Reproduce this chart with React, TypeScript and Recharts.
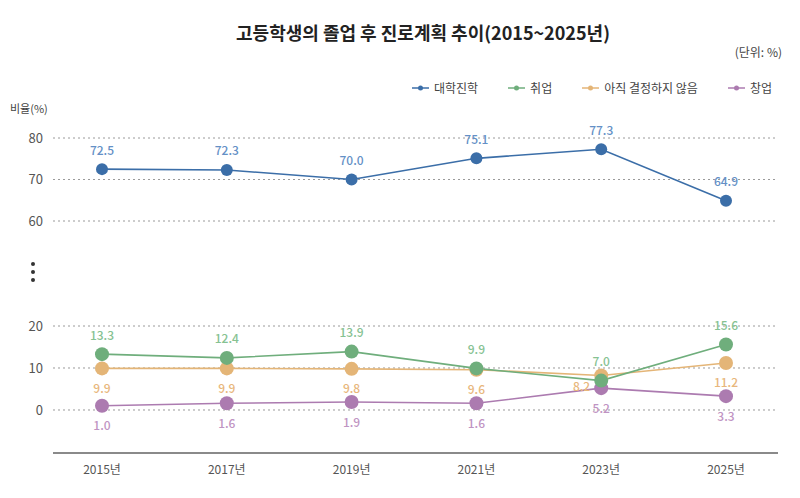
import { CartesianGrid, LabelList, Line, LineChart, XAxis, YAxis } from 'recharts';

const years: number[] = [2015, 2017, 2019, 2021, 2023, 2025];
const college: number[] = [72.5, 72.3, 70.0, 75.1, 77.3, 64.9];
const employment: number[] = [13.3, 12.4, 13.9, 9.9, 7.0, 15.6];
const undecided: number[] = [9.9, 9.9, 9.8, 9.6, 8.2, 11.2];
const startup: number[] = [1.0, 1.6, 1.9, 1.6, 5.2, 3.3];
const upperTicks: number[] = [60, 70, 80];
const lowerTicks: number[] = [0, 10, 20];

const seriesNames = {
  college: '대학진학',
  employment: '취업',
  undecided: '아직 결정하지 않음',
  startup: '창업',
};

const data = years.map((year, i) => ({
  year,
  college: college[i],
  employment: employment[i],
  undecided: undecided[i],
  startup: startup[i],
}));

const FONT = '"Noto Sans CJK KR", "Noto Sans", sans-serif';

const colors = {
  college: '#3b6ea8',
  employment: '#6fae7c',
  undecided: '#e4b577',
  startup: '#ac7bb0',
};
const labelColors = {
  college: '#6490c6',
  employment: '#86c292',
  undecided: '#e8b77c',
  startup: '#bf94c3',
};

type Key = keyof typeof colors;

function makeLabel(key: Key, side: 'above' | 'below') {
  return (props: any) => {
    const { x, y, value, index } = props;
    let tx = x;
    let ty = side === 'above' ? y - 20 : y + 19;
    let anchor = 'middle';
    // orange label at 2023 sits to the left of the point
    if (key === 'undecided' && index === 4) {
      tx = x - 11;
      ty = y + 10;
      anchor = 'end';
    }
    return (
      <text
        x={tx}
        y={ty}
        textAnchor={anchor}
        dominantBaseline="central"
        fontSize={12}
        fontWeight={500}
        fill={labelColors[key]}
        fontFamily={FONT}
      >
        {Number(value).toFixed(1)}
      </text>
    );
  };
}

const xPadding = { left: 49, right: 52 };
const chartMargin = { left: 10, right: 22 };

function renderLegend() {
  const keys: Key[] = ['college', 'employment', 'undecided', 'startup'];
  return (
    <div style={{ display: 'flex', justifyContent: 'flex-end', paddingRight: 28, fontFamily: FONT }}>
      {keys.map((k, i) => (
        <div key={k} style={{ display: 'flex', alignItems: 'center', marginLeft: i === 0 ? 0 : 30, fontSize: 12, color: '#444' }}>
          <svg width={17} height={8} style={{ marginRight: 5 }}>
            <line x1={0} y1={4} x2={17} y2={4} stroke={colors[k]} strokeWidth={1.5} />
            <circle cx={8.5} cy={4} r={2.5} fill={colors[k]} />
          </svg>
          {seriesNames[k]}
        </div>
      ))}
    </div>
  );
}

function lowerLine(key: Key, side: 'above' | 'below') {
  return (
    <Line
      type="linear"
      dataKey={key}
      name={seriesNames[key]}
      stroke={colors[key]}
      strokeWidth={1.6}
      dot={{ r: 7, fill: colors[key], stroke: colors[key], strokeWidth: 0 }}
      isAnimationActive={false}
    >
      <LabelList dataKey={key} content={makeLabel(key, side)} />
    </Line>
  );
}

export default function App() {
  return (
    <div style={{ position: 'absolute', left: 0, top: 0, width: 800, height: 498, background: '#fff', fontFamily: FONT }}>
      <div style={{ position: 'absolute', top: 19, left: 0, width: 846, textAlign: 'center', fontSize: 18, fontWeight: 700, color: '#222' }}>
        고등학생의 졸업 후 진로계획 추이(2015~2025년)
      </div>
      <div style={{ position: 'absolute', top: 43, right: 18, fontSize: 12, color: '#444' }}>(단위: %)</div>
      <div style={{ position: 'absolute', top: 100, left: 10, fontSize: 11, color: '#444' }}>비율(%)</div>
      <div style={{ position: 'absolute', top: 79, left: 0, width: 800 }}>{renderLegend()}</div>
      {[262, 270, 278].map((t) => (
        <div key={t} style={{ position: 'absolute', top: t, left: 31, width: 4, height: 4, borderRadius: 2, background: '#333' }} />
      ))}

      <div style={{ position: 'absolute', top: 0, left: 0 }}>
        <LineChart width={800} height={240} data={data} margin={{ top: 138, bottom: 19, ...chartMargin }}>
          <CartesianGrid vertical={false} stroke="#9a9a9a" strokeDasharray="2 3" />
          <XAxis dataKey="year" type="number" domain={[2015, 2025]} padding={xPadding} hide />
          <YAxis
            width={43}
            domain={[60, 80]}
            ticks={upperTicks}
            axisLine={false}
            tickLine={false}
            tickMargin={4}
            tick={{ fontSize: 13, fill: '#555', fontFamily: FONT }}
          />
          <Line
            type="linear"
            dataKey="college"
            name={seriesNames.college}
            stroke={colors.college}
            strokeWidth={1.6}
            dot={{ r: 6, fill: colors.college, stroke: colors.college, strokeWidth: 0 }}
            isAnimationActive={false}
          >
            <LabelList dataKey="college" content={makeLabel('college', 'above')} />
          </Line>
        </LineChart>
      </div>

      <div style={{ position: 'absolute', top: 240, left: 0 }}>
        <LineChart width={800} height={258} data={data} margin={{ top: 86, bottom: 15, ...chartMargin }}>
          <CartesianGrid vertical={false} stroke="#9a9a9a" strokeDasharray="2 3" />
          <XAxis
            dataKey="year"
            type="number"
            domain={[2015, 2025]}
            ticks={years}
            padding={xPadding}
            height={30}
            tickLine={false}
            tickMargin={6}
            axisLine={{ stroke: '#8a8a8a', strokeWidth: 2 }}
            tickFormatter={(v: number) => `${v}년`}
            tick={{ fontSize: 12, fill: '#555', fontFamily: FONT }}
          />
          <YAxis
            width={43}
            domain={[-10.24, 20]}
            ticks={lowerTicks}
            axisLine={false}
            tickLine={false}
            tickMargin={4}
            tick={{ fontSize: 13, fill: '#555', fontFamily: FONT }}
          />
          {lowerLine('startup', 'below')}
          {lowerLine('undecided', 'below')}
          {lowerLine('employment', 'above')}
        </LineChart>
      </div>
    </div>
  );
}
